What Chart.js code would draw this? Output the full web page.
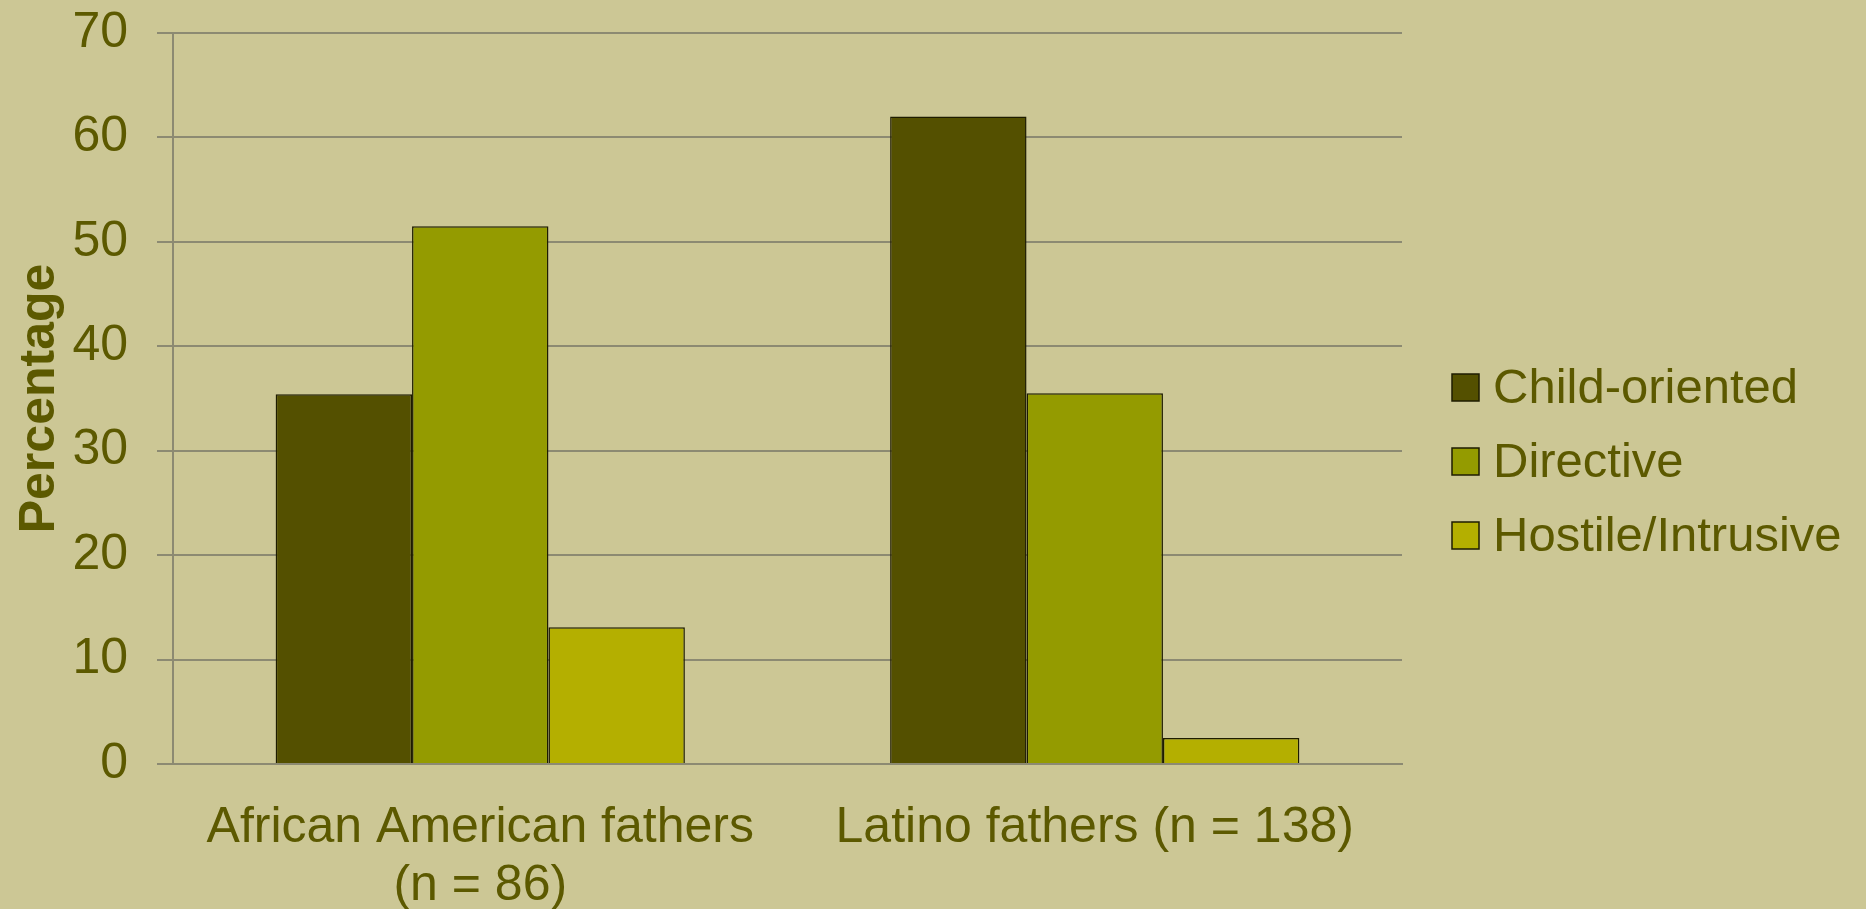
<!DOCTYPE html>
<html>
<head>
<meta charset="utf-8">
<script src="https://cdn.jsdelivr.net/npm/chart.js"></script>
<style>
  html, body { margin: 0; padding: 0; background: #ccc795; }
  #wrap { width: 1866px; height: 909px; }
</style>
</head>
<body>
<div id="wrap"><canvas id="myChart" width="1866" height="909"></canvas></div>
<script>
const groups = [["African American fathers", "(n = 86)"], "Latino fathers (n = 138)"];
const seriesNames = ["Child-oriented", "Directive", "Hostile/Intrusive"];
const childOriented = [35.4, 62.0];
const directive = [51.5, 35.5];
const hostileIntrusive = [13.1, 2.5];
const yTicks = [0, 10, 20, 30, 40, 50, 60, 70];

const barColors = ["#545000", "#949b00", "#b4af00"];
const textColor = "#5c5900";
const gridColor = "#8c8a72";
const edgeColor = "#1e1c00";

Chart.defaults.font.family = '"Liberation Sans", Arial, sans-serif';
Chart.defaults.color = textColor;

// legend on the right, drawn by hand so the spacing can be set freely
const sideLegend = {
    id: 'sideLegend',
    afterDraw(chart) {
        const ctx = chart.ctx;
        const x = chart.chartArea.right + 50;
        ctx.save();
        ctx.font = '49px "Liberation Sans", Arial, sans-serif';
        ctx.textBaseline = 'middle';
        chart.data.datasets.forEach((ds, i) => {
            const y = 387 + i * 74;
            ctx.fillStyle = ds.backgroundColor;
            ctx.fillRect(x, y - 13, 27, 27);
            ctx.strokeStyle = edgeColor;
            ctx.lineWidth = 1.5;
            ctx.strokeRect(x, y - 13, 27, 27);
            ctx.fillStyle = textColor;
            ctx.fillText(ds.label, x + 41, y + 2);
        });
        ctx.restore();
    }
};

let series = [childOriented, directive, hostileIntrusive];

let chart = new Chart("myChart", {
    type: "bar",
    data: {
        labels: groups,
        datasets: series.map((values, i) => ({
            label: seriesNames[i],
            data: values,
            backgroundColor: barColors[i],
            borderColor: edgeColor,
            borderWidth: 1.5,
            categoryPercentage: 0.666,
            barPercentage: 1.0
        }))
    },
    options: {
        responsive: false,
        animation: false,
        layout: { padding: { top: 33, right: 464, left: 0, bottom: 0 } },
        plugins: {
            legend: { display: false },
            tooltip: { enabled: false }
        },
        scales: {
            x: {
                grid: { display: false },
                border: { display: true, color: gridColor, width: 2 },
                ticks: {
                    color: textColor,
                    font: { size: 50, lineHeight: 1.16 },
                    padding: 27,
                    maxRotation: 0,
                    autoSkip: false
                },
                afterFit: (scale) => { scale.height = 145; }
            },
            y: {
                min: 0,
                max: 70,
                afterBuildTicks: (scale) => {
                    scale.ticks = yTicks.map(v => ({ value: v }));
                },
                grid: { color: gridColor, lineWidth: 2, tickLength: 16 },
                border: { display: true, color: gridColor, width: 2 },
                ticks: {
                    color: textColor,
                    font: { size: 50 },
                    padding: 29
                },
                title: {
                    display: true,
                    text: "Percentage",
                    color: textColor,
                    font: { size: 50, weight: "bold" },
                    padding: { top: 10 }
                },
                afterFit: (scale) => {
                    scale.width = 173;
                    // tick padding would otherwise push the plot down
                    scale.paddingTop = 0;
                    scale.paddingBottom = 0;
                }
            }
        }
    },
    plugins: [sideLegend]
});
</script>
</body>
</html>
